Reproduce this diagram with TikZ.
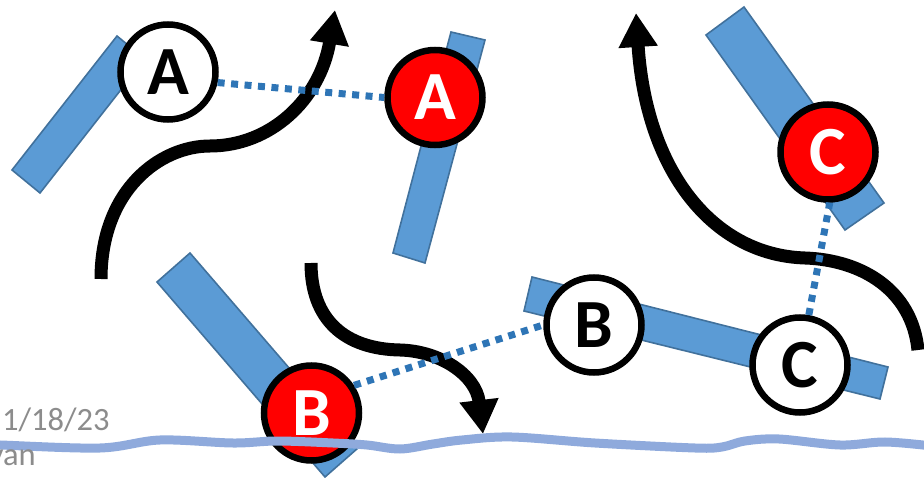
\documentclass[tikz,border=0pt]{standalone}
\usepackage{fontspec}
\newfontfamily\calfont{Carlito}
\usetikzlibrary{arrows.meta}
\definecolor{barfill}{HTML}{5B9BD5}
\definecolor{barline}{HTML}{41719C}
\definecolor{dotblue}{HTML}{2E75B6}
\definecolor{wavecol}{HTML}{8FAADC}
\definecolor{txtgray}{HTML}{8C8C8C}
\begin{document}
\begin{tikzpicture}[x=1pt,y=-1pt,
 bar/.style={fill=barfill,draw=barline,line width=1.6pt,line join=miter},
 ball/.style={circle,draw=black,line width=6.5pt,minimum size=95pt,inner sep=0pt,
   font=\calfont\bfseries\fontsize{69pt}{69pt}\selectfont},
 wball/.style={ball,fill=white,text=black},
 rball/.style={ball,fill=red,text=white},
 link/.style={draw=dotblue,line width=7pt,dash pattern=on 7pt off 6.5pt},
 flow/.style={draw=black,line width=13pt,-{Triangle[length=34pt,width=37pt]}},
 wavy/.style={draw=wavecol,line width=9pt},
 note/.style={text=txtgray,inner sep=0pt,font=\calfont\fontsize{32.5pt}{32.5pt}\selectfont}
 ]
\useasboundingbox (0,0) rectangle (924,478);

% bars
\draw[bar] (117,36) -- (145,59) -- (40,193) -- (12,170) -- cycle;
\draw[bar] (451,32) -- (485,40) -- (425,263) -- (393,253) -- cycle;
\draw[bar] (190,253) -- (358,448) -- (325,477) -- (157,282) -- cycle;
\draw[bar] (744,7) -- (884,203) -- (845,230) -- (706,35) -- cycle;
\draw[bar] (532,277) -- (888,367) -- (880,399) -- (524,311) -- cycle;

% flow arrows
\coordinate (f1s) at (101,279);
\coordinate (f1e) at (335,10);
\coordinate (f2s) at (311,263);
\coordinate (f2e) at (483,434);
\coordinate (f3s) at (918,350);
\coordinate (f3e) at (636,13);
\draw[flow] (f1s) .. controls (101,190) and (160,146) .. (210,146)
  .. controls (270,146) and (320,100) .. (f1e);
\draw[flow] (f2s) .. controls (311,320) and (345,349) .. (400,350)
  .. controls (440,351) and (476,375) .. (f2e);
\draw[flow] (f3s) .. controls (912,290) and (862,260) .. (805,258)
  .. controls (712,255) and (646,170) .. (f3e);

% atoms
\node[wball] (wA) at (168,72) {A};
\node[rball] (rA) at (435,97.5) {A};
\node[rball] (rB) at (311.5,413) {B};
\node[wball] (wB) at (594,325) {B};
\node[wball] (wC) at (800,365) {C};
\node[rball] (rC) at (828,152) {C};

% links
\draw[link] (wA.-12) -- (rA.180);
\draw[link] (rB.33) -- (wB.180);
\draw[link] (wC.80) -- (rC.-88);

% wave
\draw[wavy] plot[smooth,tension=0.55] coordinates {(-8,445) (0,445) (100,448) (160,440) (233,443) (277,441) (333,443) (367,445) (400,449) (433,444) (462,440) (512,437) (595,443) (695,448) (722,447) (745,441) (779,439) (840,445) (885,442) (932,446)};

% footer texts
\node[note,anchor=base west] (date) at (2,430) {1/18/23};
\node[note,anchor=base east] (name) at (36,465) {yan};
\end{tikzpicture}
\end{document}
